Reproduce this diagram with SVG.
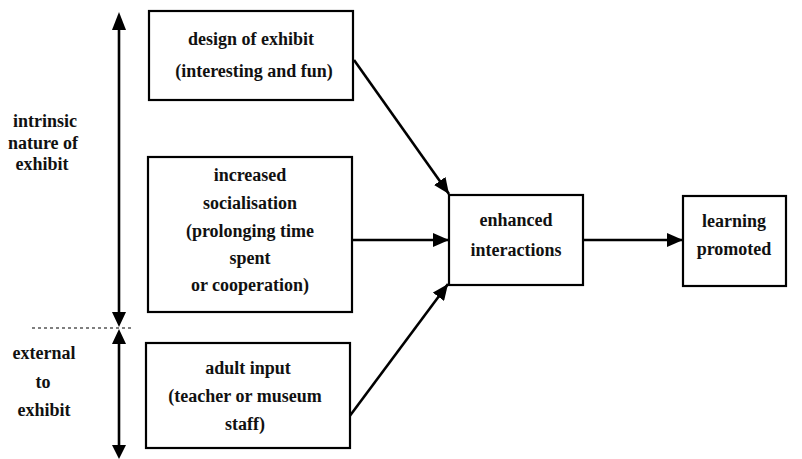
<svg xmlns="http://www.w3.org/2000/svg" width="802" height="459" viewBox="0 0 802 459">
<defs>
<marker id="ah" viewBox="0 0 16 14" refX="16" refY="7" markerWidth="16" markerHeight="14" markerUnits="userSpaceOnUse" orient="auto">
<path d="M0,0 L16,7 L0,14 Z" fill="#000"/>
</marker>
</defs>
<style>
.box{fill:#fff;stroke:#000;stroke-width:2.2}
.t{font-family:"Liberation Serif","Times New Roman",serif;font-size:18px;font-weight:bold;text-anchor:middle;fill:#111}
.c{stroke:#000;stroke-width:2.6;fill:none}
</style>
<rect width="802" height="459" fill="#fff"/>
<g id="connectors">
<line class="c" x1="119" y1="30" x2="119" y2="313"/>
<line class="c" x1="119" y1="343" x2="119" y2="446"/>
<path d="M119,12 L112,30 L126,30 Z" fill="#000"/>
<path d="M119,327 L112,312 L126,312 Z" fill="#000"/>
<path d="M119,329 L112,344 L126,344 Z" fill="#000"/>
<path d="M119,459 L112,445 L126,445 Z" fill="#000"/>
<line x1="32" y1="328" x2="133" y2="328" stroke="#000" stroke-width="1.2" stroke-dasharray="3,3"/>
<line class="c" x1="354" y1="60" x2="449" y2="194" marker-end="url(#ah)"/>
<line class="c" x1="352" y1="240" x2="449" y2="240" marker-end="url(#ah)"/>
<line class="c" x1="349" y1="417" x2="448" y2="284" marker-end="url(#ah)"/>
<line class="c" x1="583" y1="240" x2="683" y2="240" marker-end="url(#ah)"/>
</g>
<g id="label-intrinsic">
<text class="t" x="45" y="127">intrinsic</text>
<text class="t" x="43" y="149">nature of</text>
<text class="t" x="42" y="170">exhibit</text>
</g>
<g id="label-external">
<text class="t" x="44" y="359">external</text>
<text class="t" x="43" y="388">to</text>
<text class="t" x="44" y="416">exhibit</text>
</g>
<g id="design">
<rect class="box" x="149" y="11" width="204" height="89"/>
<text class="t" x="251" y="45">design of exhibit</text>
<text class="t" x="254" y="77">(interesting and fun)</text>
</g>
<g id="socialisation">
<rect class="box" x="148" y="157" width="204" height="155"/>
<text class="t" x="250" y="181">increased</text>
<text class="t" x="250" y="209">socialisation</text>
<text class="t" x="250" y="237">(prolonging time</text>
<text class="t" x="250" y="264">spent</text>
<text class="t" x="250" y="291">or cooperation)</text>
</g>
<g id="adult">
<rect class="box" x="146" y="343" width="204" height="105"/>
<text class="t" x="248" y="374">adult input</text>
<text class="t" x="245" y="402">(teacher or museum</text>
<text class="t" x="245" y="430">staff)</text>
</g>
<g id="enhanced">
<rect class="box" x="449" y="195" width="134" height="90"/>
<text class="t" x="516" y="226">enhanced</text>
<text class="t" x="516" y="256">interactions</text>
</g>
<g id="learning">
<rect class="box" x="683" y="196" width="103" height="90"/>
<text class="t" x="734" y="227">learning</text>
<text class="t" x="734" y="255">promoted</text>
</g>
</svg>
